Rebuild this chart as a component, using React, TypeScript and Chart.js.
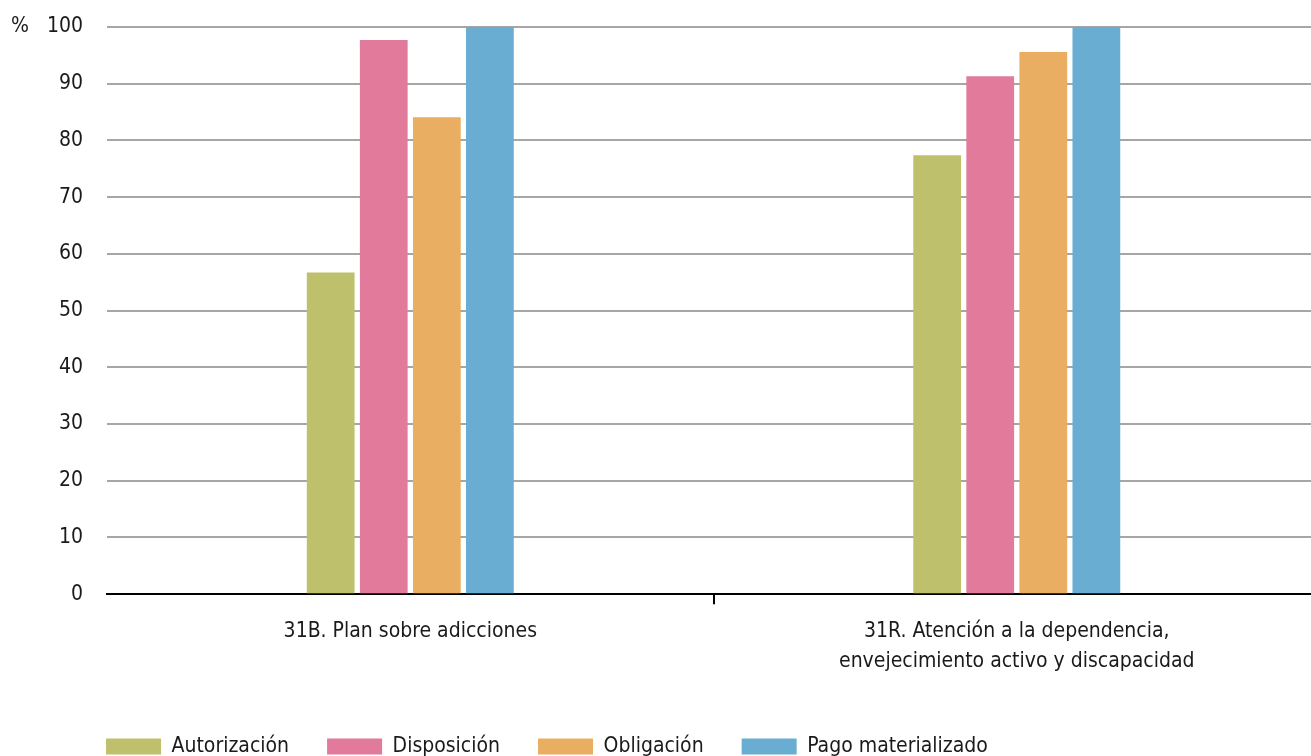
import React, { useEffect, useRef } from "react";
import { Chart, registerables } from "chart.js";

Chart.register(...registerables);

const categories: (string | string[])[] = [
  "31B. Plan sobre adicciones",
  ["31R. Atención a la dependencia,", "envejecimiento activo y discapacidad"],
];
const autorizacion = [56.7, 77.4];
const disposicion = [97.7, 91.3];
const obligacion = [84.1, 95.6];
const pagoMaterializado = [100, 100];
const seriesNames = ["Autorización", "Disposición", "Obligación", "Pago materializado"];
const seriesColors = ["#bec06c", "#e27a9b", "#e9ae61", "#69aed2"];
const yTicksMax = 100;
const yStep = 10;

const FONT = "'Liberation Sans Narrow', 'DejaVu Sans Condensed', 'Roboto', sans-serif";
const LEGEND_PAD = 38;

const percentPlugin = {
  id: "percentLabel",
  afterLayout(chart: any) {
    const lg = chart.legend;
    if (lg) {
      const shift = chart.chartArea.left - 1 - LEGEND_PAD - lg.left;
      lg.left += shift;
      lg.right += shift;
    }
  },
  afterDraw(chart: any) {
    const y = chart.scales.y;
    const ctx = chart.ctx;
    ctx.save();
    ctx.font = `21px ${FONT}`;
    ctx.fillStyle = "#1a1a1a";
    ctx.textAlign = "left";
    ctx.textBaseline = "middle";
    ctx.fillText("%", 11, y.getPixelForValue(yTicksMax));
    ctx.restore();
  },
};

export default function App() {
  const ref = useRef<HTMLCanvasElement>(null);
  useEffect(() => {
    if (!ref.current) return;
    const data = [autorizacion, disposicion, obligacion, pagoMaterializado];
    const chart = new Chart(ref.current, {
      type: "bar",
      data: {
        labels: categories,
        datasets: data.map((d, i) => ({
          label: seriesNames[i],
          data: d,
          backgroundColor: seriesColors[i],
          borderWidth: 0,
          barPercentage: 0.9,
          categoryPercentage: 0.35,
        })),
      },
      plugins: [percentPlugin],
      options: {
        animation: false,
        responsive: false,
        maintainAspectRatio: false,
        layout: { padding: { top: 27, right: 0, left: 43, bottom: -11 } },
        plugins: {
          tooltip: { enabled: false },
          legend: {
            position: "bottom",
            align: "start",
            fullSize: false,
            labels: {
              boxWidth: 55,
              boxHeight: 16,
              padding: LEGEND_PAD,
              color: "#1a1a1a",
              font: { family: FONT, size: 21 },
            },
          },
        },
        scales: {
          x: {
            grid: {
              drawOnChartArea: false,
              drawTicks: true,
              tickLength: 10,
              lineWidth: 2,
              color: (ctx: any) => (ctx.index === 1 ? "#000" : "rgba(0,0,0,0)"),
            },
            border: { display: true, color: "#000", width: 2 },
            ticks: {
              color: "#1a1a1a",
              font: { family: FONT, size: 21, lineHeight: 1.4 },
              padding: 13,
              maxRotation: 0,
            },
            afterFit: (scale: any) => {
              scale.height += 9;
            },
          },
          y: {
            min: 0,
            max: yTicksMax,
            ticks: {
              stepSize: yStep,
              color: "#1a1a1a",
              font: { family: FONT, size: 21 },
              padding: 4,
            },
            grid: {
              drawTicks: true,
              tickLength: 20,
              tickColor: "rgba(0,0,0,0)",
              lineWidth: 2,
              color: "#a6a6a6",
            },
            border: { display: false },
          },
        },
      },
    });
    return () => chart.destroy();
  }, []);
  return (
    <div style={{ position: "fixed", left: 0, top: 0, width: 1311, height: 756, background: "#fff", overflow: "hidden" }}>
      <canvas ref={ref} width={1320} height={756} style={{ display: "block" }} />
    </div>
  );
}
